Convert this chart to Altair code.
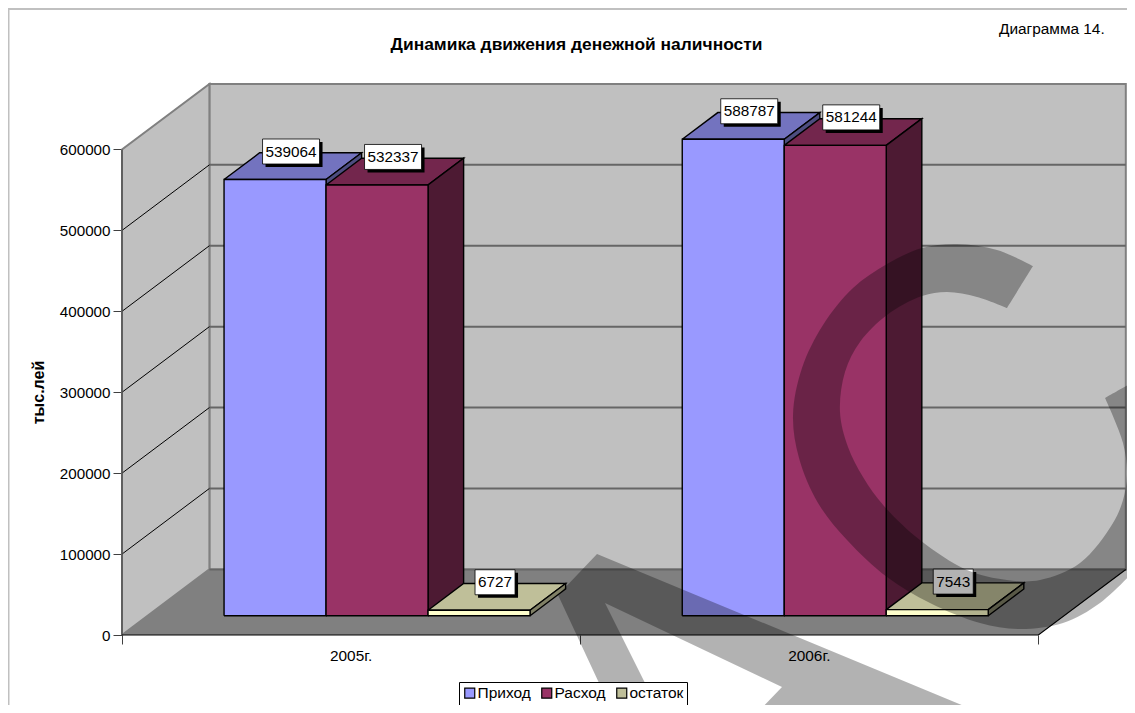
import altair as alt
import pandas as pd

# ---- data ----
categories = ["2005г.", "2006г."]
series = ["Приход", "Расход", "остаток"]
income = [539064, 588787]
expense = [532337, 581244]
balance = [6727, 7543]
values = [income, expense, balance]
y_ticks = [0, 100000, 200000, 300000, 400000, 500000, 600000]

front_colors = ["#9999ff", "#993366", "#ffffcc"]
top_colors = ["#7373bf", "#73264d", "#bfbf99"]
side_colors = ["#4d4d80", "#4d1a33", "#808066"]
legend_colors = ["#9999ff", "#993366", "#bfbf99"]

# watermark outline (image pixels); a repeated point is a sharp corner
wm_a = [(558, 595), (597, 554), (981, 713), (847, 713), (823, 705), (798, 713), (757, 713),
        (782, 687), (605, 603), (660, 713), (613, 713), (558, 595)]
wm_c = [(1033, 266), (1033, 266), (997, 250), (957, 244), (922, 248), (887, 264), (853, 288), (823, 325), (802, 368),
        (793, 415), (799, 458), (818, 503), (847, 540), (887, 577), (930, 603), (980, 623), (1020, 629), (1063, 623),
        (1100, 603), (1135, 570), (1135, 570),
        (1135, 381), (1135, 381), (1105, 398), (1105, 398), (1123, 443), (1127, 475), (1123, 500), (1113, 523),
        (1080, 563), (1040, 580), (1007, 580), (967, 570), (920, 540), (884, 506), (863, 477), (848, 447),
        (840, 412), (845, 372), (860, 342), (887, 315), (922, 296), (947, 292), (977, 297), (1007, 308), (1007, 308),
        (1033, 266), (1033, 266)]

# ---- layout of the page and the oblique projection ----
PX0, PY0 = 122, 635           # axis origin on the page
CAT_PX = 458.2                # px per category
VAL_PX = 485.5 / 600000       # px per unit of value
W, H = 1005, 552
DEPTH_X = 87.4 / CAT_PX       # shift of the back of the floor, in category units
DEPTH_Y = 65.6 / VAL_PX       # same, in value units
D0, D1 = 19.3 / 65.6, 46 / 65.6     # depth of the bars' front and back
BAR_START, BAR_W = 0.1666, 102 / CAT_PX

xs = alt.Scale(domain=[0, W / CAT_PX], range=[0, W], nice=False, zero=False)
ys = alt.Scale(domain=[0, H / VAL_PX], range=[H, 0], nice=False, zero=False)
x_axis = alt.Axis(values=[0, 1, 2], labels=False, title=None, grid=False, domain=False,
                  tickSize=9, tickColor="#404040", tickWidth=1)
y_axis = alt.Axis(values=y_ticks, format="d", grid=False, domain=False, tickSize=9, tickColor="#404040",
                  tickWidth=1, labelPadding=3, labelFontSize=15.2, labelFont="Liberation Sans", labelColor="#000000",
                  title="тыс.лей", titleFont="Liberation Sans", titleFontSize=16, titleFontWeight="bold",
                  titleColor="#000000", titleX=-76, titleY=309)
X = alt.X("x:Q", scale=xs, axis=x_axis)
Y = alt.Y("y:Q", scale=ys, axis=y_axis)


def proj(u, v, d):
    return (u + DEPTH_X * d, v + DEPTH_Y * d)


def from_px(p):
    return ((p[0] - PX0) / CAT_PX, (PY0 - p[1]) / VAL_PX)


def poly(pts, fill=None, stroke=None, sw=1.0, opacity=None, interpolate=None):
    pts = list(pts)
    if pts[0] != pts[-1] and fill is not None:
        pts = pts + [pts[0]]
    df = pd.DataFrame({"x": [p[0] for p in pts], "y": [p[1] for p in pts], "i": range(len(pts))})
    kw = {"strokeJoin": "miter", "clip": False}
    kw["fill"] = fill if fill is not None else "transparent"
    kw["stroke"] = stroke if stroke is not None else "transparent"
    kw["strokeWidth"] = sw if stroke is not None else 0
    if opacity is not None:
        kw["fillOpacity"] = opacity
    if interpolate is not None:
        kw["interpolate"] = interpolate
    return alt.Chart(df).mark_line(**kw).encode(x=X, y=Y, order="i:Q")


layers = []

# legend carrier
axis_df = pd.DataFrame({"x": [0.0, 0.0, 0.0], "y": [0.0, 0.0, 0.0], "s": series})
layers.append(
    alt.Chart(axis_df).mark_rect(clip=False).encode(
        x=X,
        x2="x:Q",
        y=Y,
        y2="y:Q",
        color=alt.Color("s:N", scale=alt.Scale(domain=series, range=legend_colors), legend=alt.Legend(
            title=None, orient="none", legendX=337, legendY=599, direction="horizontal", columns=3,
            symbolType="square", symbolSize=100, symbolStrokeColor="#000000", symbolStrokeWidth=1.2,
            symbolOpacity=1, labelFont="Liberation Sans", labelFontSize=15.5, labelColor="#000000",
            labelOffset=0, columnPadding=8, padding=3, fillColor="#ffffff", strokeColor="#000000",
            labelLimit=200)),
    )
)

# walls and floor
back_h = y_ticks[-1]
layers.append(poly([proj(0, 0, 1), proj(2, 0, 1), proj(2, back_h, 1), proj(0, back_h, 1)],
                   fill="#c0c0c0", stroke="#808080", sw=2))
layers.append(poly([proj(0, 0, 0), proj(0, 0, 1), proj(0, back_h, 1), proj(0, back_h, 0)],
                   fill="#c0c0c0", stroke="#808080", sw=2))
layers.append(poly([proj(0, 0, 0), proj(2, 0, 0), proj(2, 0, 1), proj(0, 0, 1)], fill="#808080"))

# grid
for t in y_ticks[1:-1]:
    layers.append(poly([proj(0, t, 1), proj(2, t, 1)], stroke="#666666", sw=2))
    layers.append(poly([proj(0, t, 0), proj(0, t, 1)], stroke="#000000", sw=1))
layers.append(poly([proj(0, 0, 1), proj(2, 0, 1)], stroke="#666666", sw=2))
layers.append(poly([proj(0, 0, 0), proj(0, back_h, 0)], stroke="#555555", sw=1.5))
layers.append(poly([proj(0, 0, 0), proj(2, 0, 0), proj(2, 0, 1)], stroke="#000000", sw=1.2))

# bars
for g in range(len(categories)):
    for s in range(len(series)):
        v = values[s][g]
        u0 = g + BAR_START + s * BAR_W
        u1 = u0 + BAR_W
        layers.append(poly([proj(u0, v, D0), proj(u1, v, D0), proj(u1, v, D1), proj(u0, v, D1)],
                           fill=top_colors[s], stroke="#000000", sw=1.4))
        layers.append(poly([proj(u1, 0, D0), proj(u1, 0, D1), proj(u1, v, D1), proj(u1, v, D0)],
                           fill=side_colors[s], stroke="#000000", sw=1.4))
        layers.append(poly([proj(u0, 0, D0), proj(u1, 0, D0), proj(u1, v, D0), proj(u0, v, D0)],
                           fill=front_colors[s], stroke="#000000", sw=1.4))

# data labels
for g in range(len(categories)):
    for s in range(len(series)):
        v = values[s][g]
        cx, cy = proj(g + BAR_START + (s + 0.5) * BAR_W, v, 0.5)
        df = pd.DataFrame({"x": [cx], "y": [cy], "t": [str(v)]})
        w = 57 if v > 99999 else 40
        ox, oy = -2, -14.5
        layers.append(alt.Chart(df).mark_rect(width=w, height=25, xOffset=ox + 3, yOffset=oy + 3,
                                              fill="#000000", clip=False).encode(x=X, y=Y))
        layers.append(alt.Chart(df).mark_rect(width=w, height=25, xOffset=ox, yOffset=oy, fill="#ffffff",
                                              stroke="#000000", strokeWidth=0.8, clip=False).encode(x=X, y=Y))
        layers.append(alt.Chart(df).mark_text(dx=ox, dy=oy, font="Liberation Sans", fontSize=15.3, color="#000000",
                                              align="center", baseline="middle", clip=False).encode(x=X, y=Y, text="t:N"))

# category labels
cat_df = pd.DataFrame({"x": [i + 0.5 for i in range(len(categories))], "t": categories})
layers.append(alt.Chart(cat_df).mark_text(font="Liberation Sans", fontSize=15.4, color="#000000", align="center",
                                          baseline="middle", clip=False).encode(
    x=X, y=alt.value(H + 21), text="t:N"))

# page frame and side note
frame = "#c0c0c0"
layers.append(alt.Chart(pd.DataFrame({"a": [1]})).mark_rule(color=frame, strokeWidth=2).encode(
    x=alt.value(-114), x2=alt.value(W), y=alt.value(-74)))
layers.append(alt.Chart(pd.DataFrame({"a": [1]})).mark_rule(color=frame, strokeWidth=1.5).encode(
    x=alt.value(-113.25), y=alt.value(-75), y2=alt.value(H + 70)))
layers.append(alt.Chart(pd.DataFrame({"t": ["Диаграмма 14."]})).mark_text(
    font="Liberation Sans", fontSize=15.4, color="#000000", align="left", baseline="alphabetic").encode(
    x=alt.value(999 - PX0), y=alt.value(34 - 83), text="t:N"))

# watermark
layers.append(poly([from_px(p) for p in wm_a], fill="#000000", opacity=0.3))
layers.append(poly([from_px(p) for p in wm_c], fill="#000000", opacity=0.3, interpolate="catmull-rom"))

chart = alt.layer(*layers).properties(
    width=W, height=H,
    padding={"left": 114, "top": 75, "right": 0, "bottom": 70},
    autosize=alt.AutoSizeParams(type="none"),
    background="#ffffff",
    title=alt.TitleParams("Динамика движения денежной наличности", font="Liberation Sans", fontSize=17.4,
                          fontWeight="bold", color="#000000", anchor="middle", dx=-48, offset=-46),
).configure_view(stroke=None)

chart.save("out.html", embed_options={"renderer": "svg", "actions": False})
